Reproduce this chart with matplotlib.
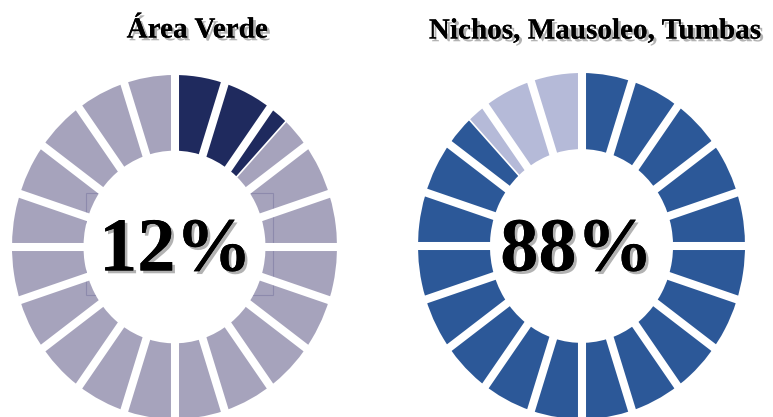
import numpy as np
import matplotlib
matplotlib.use("Agg")
import matplotlib.pyplot as plt
import matplotlib.patheffects as pe
from matplotlib.patches import Rectangle

# Share of each land use (percent)
titles = ["Área Verde", "Nichos, Mausoleo, Tumbas"]
values = [12, 88]
fill_colors = ["#1f2a5e", "#2c5898"]
rest_colors = ["#a6a3bc", "#b5bad8"]
n_segments = 20

W, H = 773, 417
fig = plt.figure(figsize=(W / 100, H / 100), dpi=100)

# donut placement in pixels: centre x, centre y (from top), radius x, radius y
layout = [(174.5, 247, 162.5, 172), (581.5, 246, 163.5, 173)]
title_pos = [(197, 30), (595, 31)]
# label offsets from the donut centre, in pixels (right, down)
label_shift = [(1, 5), (-5, 6)]
inner = 0.56

shadow = [pe.withSimplePatchShadow(offset=(2, -2), shadow_rgbFace="#666666", alpha=0.5), pe.Normal()]
serif = "Liberation Serif"

for i, (title, val) in enumerate(zip(titles, values)):
    cx, cy, rx, ry = layout[i]
    ax = fig.add_axes([(cx - rx) / W, (H - cy - ry) / H, 2 * rx / W, 2 * ry / H])
    wedges, _ = ax.pie([val, 100 - val], colors=[fill_colors[i], rest_colors[i]],
                       startangle=90, counterclock=False, radius=1,
                       wedgeprops=dict(width=1 - inner, edgecolor="none"))
    ax.set_aspect("auto")
    ax.set_xlim(-1, 1)
    ax.set_ylim(-1, 1)
    ax.axis("off")

    # hairline between filled part and remainder
    a = np.deg2rad(90 - val / 100 * 360)
    ax.plot([0, 1.1 * np.cos(a)], [0, 1.1 * np.sin(a)], color="white", lw=1.2,
            solid_capstyle="butt", zorder=3, clip_on=False)

    # white separators between segments
    for k in range(n_segments):
        a = np.deg2rad(90 - k * 360 / n_segments)
        ax.plot([0, 1.1 * np.cos(a)], [0, 1.1 * np.sin(a)], color="white", lw=5.8,
                solid_capstyle="butt", zorder=4, clip_on=False)

    if i == 0:
        # faint frame of the label box, seen only over the ring
        x0, x1 = (86 - cx) / rx, (273 - cx) / rx
        y0, y1 = (cy - 295) / ry, (cy - 193) / ry
        for w in wedges:
            r = Rectangle((x0, y0), x1 - x0, y1 - y0, fill=False,
                          edgecolor="#6f6d9a", lw=0.8, alpha=0.45, zorder=3)
            ax.add_patch(r)
            r.set_clip_path(w)

    dx, dy = label_shift[i]
    ax.text(dx / rx, -dy / ry, f"{val}%", ha="center", va="center", fontsize=55,
            fontweight="bold", family=serif, color="black", zorder=6,
            path_effects=shadow)

    tx, ty = title_pos[i]
    fig.text(tx / W, 1 - ty / H, title, ha="center", va="center", fontsize=21,
             fontweight="bold", family=serif, color="black", path_effects=shadow)

fig.savefig("out.png", dpi=100, facecolor="white")
